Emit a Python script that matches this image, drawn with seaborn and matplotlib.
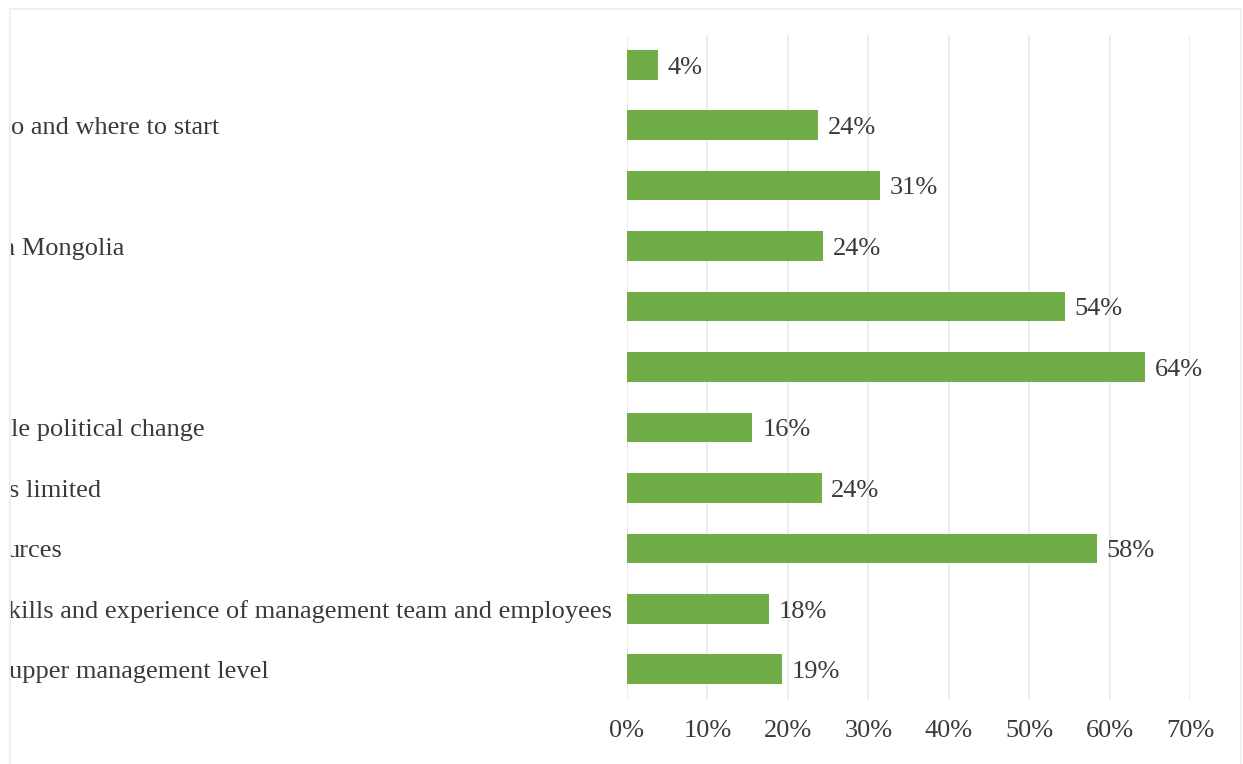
import numpy as np
import pandas as pd
import matplotlib
matplotlib.use("Agg")
import matplotlib.pyplot as plt
import seaborn as sns
from matplotlib.patches import Rectangle
from matplotlib.transforms import (Bbox, TransformedBbox, ScaledTranslation,
                                   blended_transform_factory)

# Survey responses: share of respondents naming each obstacle (percent)
row_labels = [
    "",
    "o and where to start",
    "",
    "n Mongolia",
    "",
    "",
    "le political change",
    "s limited",
    "urces",
    "kills and experience of management team and employees",
    "upper management level",
]
shares = [3.8, 23.8, 31.4, 24.4, 54.4, 64.4, 15.6, 24.2, 58.4, 17.6, 19.3]
x_ticks = [0, 10, 20, 30, 40, 50, 60, 70]

# right edge (pixels) of each category label
label_right_px = [0, 219, 0, 124, 0, 0, 205, 101, 63, 612, 269]

W, H = 1243, 764
DPI = 100
BAR_COLOR = "#70AD47"
TEXT_COLOR = "#3A3A3A"
GRID_COLOR = "#EAEAEA"
FONT = "Liberation Serif"

sns.set_theme(style="white")
plt.rcParams["font.family"] = [FONT, "DejaVu Serif"]

fig = plt.figure(figsize=(W / DPI, H / DPI), dpi=DPI)
fig.patch.set_facecolor("white")

# plot area in pixel coordinates
x0, x1 = 627, 1190
y_top, y_bot = 34.5, 699.5
ax = fig.add_axes([x0 / W, 1 - y_bot / H, (x1 - x0) / W, (y_bot - y_top) / H])

df = pd.DataFrame({"row": np.arange(len(shares)), "share": shares})
sns.barplot(data=df, x="share", y="row", orient="h", color=BAR_COLOR,
            saturation=1, width=0.49, ax=ax)
for p in ax.patches:
    p.set_edgecolor("none")

ax.set_xlim(0, 70)
ax.set_ylim(len(shares) - 0.5, -0.5)
ax.set_xticks(x_ticks)
ax.set_xticklabels([f"{t}%" for t in x_ticks])
ax.set_yticks([])
ax.set_xlabel("")
ax.set_ylabel("")
ax.tick_params(axis="x", length=0, pad=15, labelsize=19, labelcolor=TEXT_COLOR)
ax.grid(axis="x", color=GRID_COLOR, linewidth=1.3)
ax.grid(axis="y", visible=False)
ax.set_axisbelow(True)
for s in ax.spines.values():
    s.set_visible(False)

# value labels next to each bar
for i, v in enumerate(shares):
    ax.annotate(f"{v:.0f}%", xy=(v, i), xytext=(7, -2), textcoords="offset points",
                ha="left", va="center", fontsize=19, color=TEXT_COLOR)

# category labels, clipped at the chart frame
clip = TransformedBbox(Bbox([[11 / W, 0], [1, 1]]), fig.transFigure)
shift = ScaledTranslation(0, -3 / DPI, fig.dpi_scale_trans)
trans = blended_transform_factory(fig.transFigure, ax.transData) + shift
for i, (lab, xr) in enumerate(zip(row_labels, label_right_px)):
    if not lab:
        continue
    t = fig.text(xr / W, i, lab, transform=trans, ha="right", va="center",
                 fontsize=19, color=TEXT_COLOR)
    t.set_clip_box(clip)
    t.set_clip_on(True)

# chart frame
fig.patches.append(Rectangle((10 / W, -0.05), (1241 - 10) / W, 1 - 8.5 / H + 0.05,
                             transform=fig.transFigure, fill=False,
                             edgecolor="#EFEFEF", linewidth=1.5))

fig.savefig("out.png", dpi=DPI)
